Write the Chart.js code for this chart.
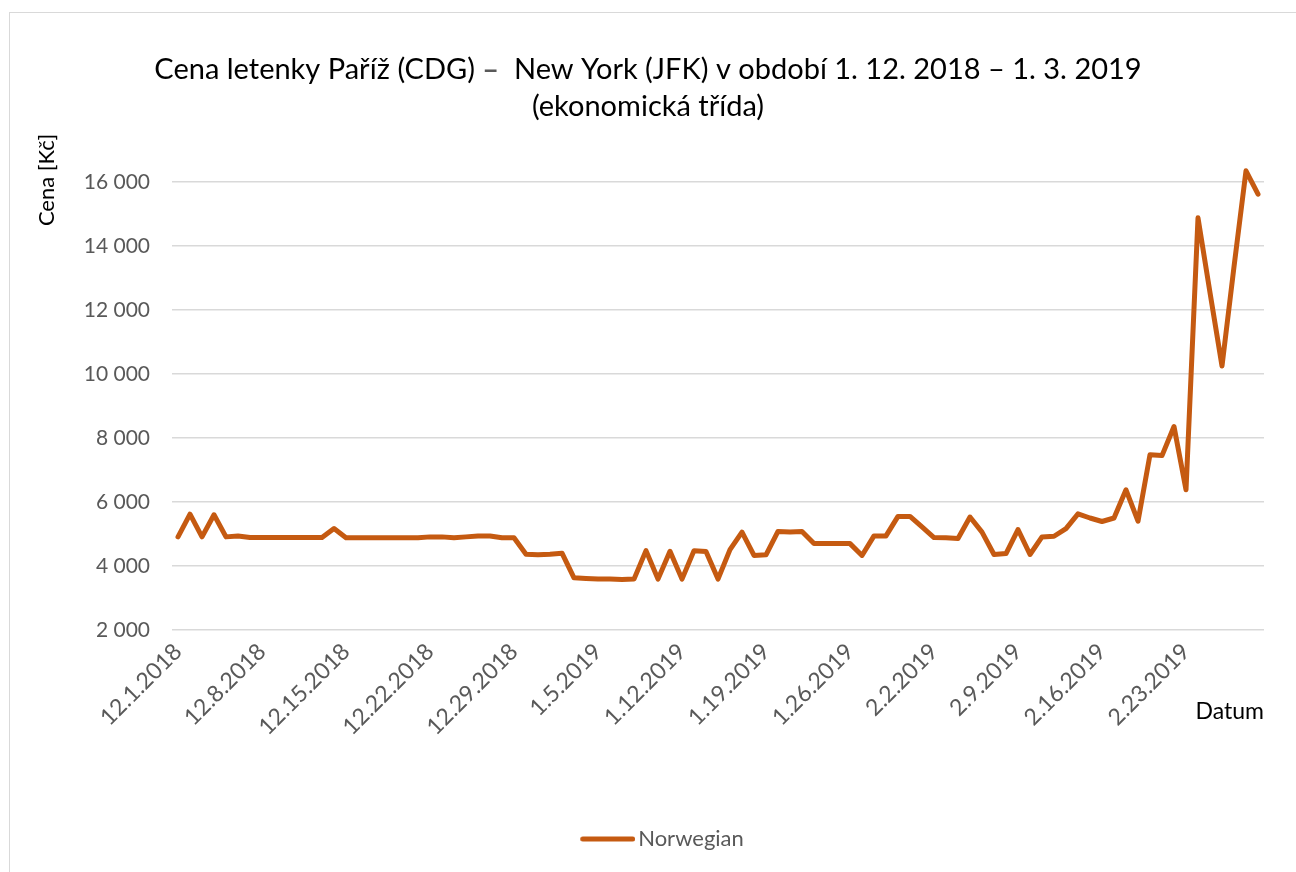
<!DOCTYPE html>
<html><head><meta charset="utf-8">
<script src="https://cdn.jsdelivr.net/npm/chart.js@4"></script>
<style>
html,body{margin:0;padding:0;background:#fff;overflow:hidden}
#wrap{position:relative;width:1296px;height:872px;overflow:hidden}
#frame{position:absolute;left:9px;top:12px;width:1400px;height:1000px;border:1.5px solid #d9d9d9;box-sizing:border-box}
canvas{position:absolute;left:0;top:0}
</style></head><body>
<div id="wrap"><div id="frame"></div><canvas id="c" width="1296" height="872"></canvas></div>
<script>
const categories = [
 '12.1.2018','12.2.2018','12.3.2018','12.4.2018','12.5.2018','12.6.2018','12.7.2018','12.8.2018','12.9.2018','12.10.2018',
 '12.11.2018','12.12.2018','12.13.2018','12.14.2018','12.15.2018','12.16.2018','12.17.2018','12.18.2018','12.19.2018','12.20.2018',
 '12.21.2018','12.22.2018','12.23.2018','12.24.2018','12.25.2018','12.26.2018','12.27.2018','12.28.2018','12.29.2018','12.30.2018',
 '12.31.2018','1.1.2019','1.2.2019','1.3.2019','1.4.2019','1.5.2019','1.6.2019','1.7.2019','1.8.2019','1.9.2019',
 '1.10.2019','1.11.2019','1.12.2019','1.13.2019','1.14.2019','1.15.2019','1.16.2019','1.17.2019','1.18.2019','1.19.2019',
 '1.20.2019','1.21.2019','1.22.2019','1.23.2019','1.24.2019','1.25.2019','1.26.2019','1.27.2019','1.28.2019','1.29.2019',
 '1.30.2019','1.31.2019','2.1.2019','2.2.2019','2.3.2019','2.4.2019','2.5.2019','2.6.2019','2.7.2019','2.8.2019',
 '2.9.2019','2.10.2019','2.11.2019','2.12.2019','2.13.2019','2.14.2019','2.15.2019','2.16.2019','2.17.2019','2.18.2019',
 '2.19.2019','2.20.2019','2.21.2019','2.22.2019','2.23.2019','2.24.2019','2.25.2019','2.26.2019','2.27.2019','2.28.2019',
 '3.1.2019'
];
const tickLabels = ['12.1.2018','12.8.2018','12.15.2018','12.22.2018','12.29.2018','1.5.2019','1.12.2019','1.19.2019','1.26.2019','2.2.2019','2.9.2019','2.16.2019','2.23.2019'];
const norwegian = [
 4910,5620,4910,5600,4910,4940,4890,4890,4890,4890,
 4890,4890,4890,5170,4880,4880,4880,4880,4880,4880,
 4880,4910,4910,4880,4910,4940,4940,4880,4880,4370,
 4350,4370,4400,3630,3610,3590,3590,3580,3590,4480,
 3590,4460,3590,4480,4450,3590,4510,5060,4330,4350,
 5080,5060,5080,4700,4700,4700,4700,4330,4940,4940,
 5550,5550,5220,4890,4880,4860,5530,5060,4360,4390,
 5140,4360,4910,4930,5170,5630,5500,5390,5500,6380,
 5400,7480,7450,8360,6380,14880,12540,10250,13350,16350,
 15620
];
const yTicks = [2000,4000,6000,8000,10000,12000,14000,16000];
const titleLine1 = ['Cena letenky Paříž (CDG) ','–','  New York (JFK) v období 1. 12. 2018 – 1. 3. 2019'];
const titleLine2 = '(ekonomická třída)';
const yTitle = 'Cena [Kč]';
const xTitle = 'Datum';
const seriesName = 'Norwegian';

const FONT = 'Lato';
const LINE_COLOR = '#C55A11';
const fmt = v => String(v).replace(/\B(?=(\d{3})+(?!\d))/g, ' ');

// legend line sample (drawn offset inside its box so it sits close to the text)
const legendImg = document.createElement('canvas');
legendImg.width = 123; legendImg.height = 8;
(function(){
  const lc = legendImg.getContext('2d');
  lc.strokeStyle = LINE_COLOR; lc.lineWidth = 5; lc.lineCap = 'round';
  lc.beginPath(); lc.moveTo(70.5, 4); lc.lineTo(120.5, 4); lc.stroke();
})();

const textPlugin = {
  id: 'texts',
  afterDraw(chart) {
    const ctx = chart.ctx, a = chart.chartArea;
    ctx.save();
    ctx.textBaseline = 'alphabetic';
    const TF = 29;
    const cols = ['#000000', '#595959', '#000000'];
    const fonts = [TF + 'px ' + FONT, 'bold ' + TF + 'px ' + FONT, TF + 'px ' + FONT];
    const widths = titleLine1.map((s, i) => { ctx.font = fonts[i]; return ctx.measureText(s).width; });
    const total = widths.reduce((p, c) => p + c, 0);
    let x = chart.width / 2 - total / 2;
    ctx.textAlign = 'left';
    titleLine1.forEach((s, i) => {
      ctx.fillStyle = cols[i];
      ctx.font = fonts[i];
      ctx.fillText(s, x, 79);
      x += widths[i];
    });
    ctx.font = TF + 'px ' + FONT;
    ctx.fillStyle = '#000000';
    ctx.textAlign = 'center';
    ctx.fillText(titleLine2, chart.width / 2, 116);
    // axis titles
    ctx.font = '22px ' + FONT;
    ctx.save();
    ctx.translate(54, 180);
    ctx.rotate(-Math.PI / 2);
    ctx.textAlign = 'center';
    ctx.fillText(yTitle, 0, 0);
    ctx.restore();
    ctx.font = '23px ' + FONT;
    ctx.textAlign = 'right';
    ctx.fillText(xTitle, a.right, 719);
    ctx.restore();
  }
};

new Chart(document.getElementById('c'), {
  type: 'line',
  data: {
    labels: categories,
    datasets: [{
      label: seriesName,
      data: norwegian,
      borderColor: LINE_COLOR,
      backgroundColor: LINE_COLOR,
      borderWidth: 5,
      pointRadius: 0,
      pointHoverRadius: 0,
      tension: 0,
      borderJoinStyle: 'round',
      borderCapStyle: 'round',
      clip: false
    }]
  },
  options: {
    responsive: false,
    animation: false,
    devicePixelRatio: 1,
    layout: { padding: { left: 0, right: 32, top: 182, bottom: 12 } },
    plugins: {
      title: { display: false },
      tooltip: { enabled: false },
      legend: {
        position: 'bottom',
        labels: {
          usePointStyle: true,
          pointStyle: legendImg,
          pointStyleWidth: 107,
          boxHeight: 22,
          padding: 10,
          color: '#595959',
          font: { family: FONT, size: 22 }
        }
      }
    },
    scales: {
      x: {
        offset: true,
        grid: { display: false, drawTicks: false },
        border: { display: false },
        ticks: {
          autoSkip: false,
          maxRotation: 45,
          minRotation: 45,
          padding: 8,
          color: '#595959',
          font: { family: FONT, size: 23 },
          callback: function(v, i) { const l = categories[i]; return tickLabels.includes(l) ? l : ''; }
        },
        afterFit(s) { s.height = 188; }
      },
      y: {
        min: 2000,
        max: 16000,
        grid: { color: '#d9d9d9', lineWidth: 1.5, drawTicks: false },
        border: { display: false },
        ticks: {
          stepSize: 2000,
          padding: 22,
          color: '#595959',
          font: { family: FONT, size: 21 },
          callback: v => yTicks.includes(v) ? fmt(v) : ''
        },
        afterFit(s) { s.width = 172; }
      }
    }
  },
  plugins: [textPlugin]
});
</script>
</body></html>
